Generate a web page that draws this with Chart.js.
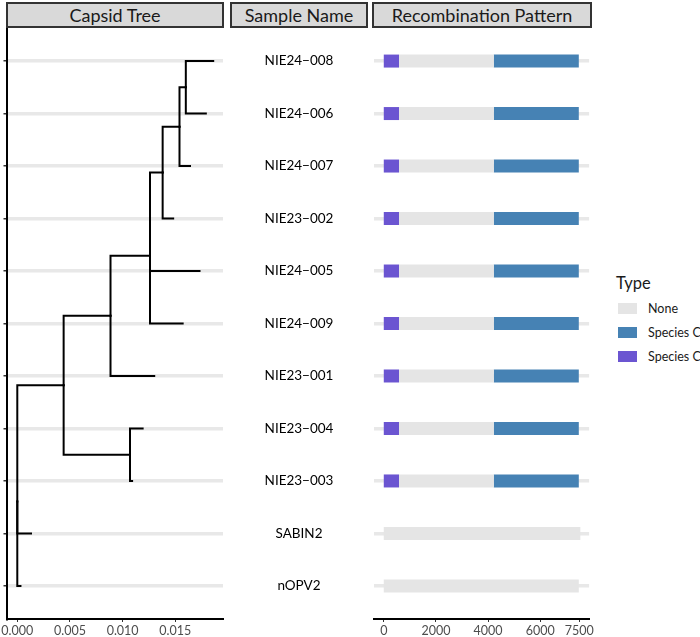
<!DOCTYPE html>
<html>
<head>
<meta charset="utf-8">
<script src="https://cdn.jsdelivr.net/npm/chart.js@4.4.1/dist/chart.umd.min.js"></script>
<style>
  html, body { margin:0; padding:0; background:#fff; }
  body { width:700px; height:637px; position:relative; overflow:hidden; font-family: Lato, "Noto Sans", sans-serif; }
  .cv { position:absolute; top:0; }
  .strip { position:absolute; top:2px; height:26px; box-sizing:border-box; border:2px solid #333; background:#d9d9d9;
           color:#1a1a1a; font-size:18px; line-height:22px; text-align:center; white-space:nowrap; }
  #legend { position:absolute; left:616px; top:272px; color:#1a1a1a; white-space:nowrap; }
  #legend .title { font-size:16.5px; height:28px; line-height:22px; }
  #legend .item { position:relative; height:24px; }
  #legend .key { position:absolute; left:2px; top:3px; width:19px; height:11px; }
  #legend .lab { position:absolute; left:32px; top:0; font-size:12.5px; line-height:17px; }
</style>
</head>
<body>
<canvas id="tree" class="cv" width="230" height="637" style="left:0"></canvas>
<canvas id="names" class="cv" width="136" height="637" style="left:231px"></canvas>
<canvas id="recomb" class="cv" width="225" height="637" style="left:370px"></canvas>
<div class="strip" style="left:6px;width:218px">Capsid Tree</div>
<div class="strip" style="left:230px;width:138px">Sample Name</div>
<div class="strip" style="left:372px;width:220px">Recombination Pattern</div>
<div id="legend"></div>
<script>
// ---------------- DATA ----------------
// samples, top to bottom
const samples = ['NIE24−008','NIE24−006','NIE24−007','NIE23−002','NIE24−005','NIE24−009','NIE23−001','NIE23−004','NIE23−003','SABIN2','nOPV2'];

// capsid tree edges (child, parent, branch length)
const edgeChild  = ['n1','n2','n3','n4','n5','n6','n7','NIE24−008','NIE24−006','NIE24−007','NIE23−002','NIE24−005','NIE24−009','NIE23−001','NIE23−004','NIE23−003','SABIN2','nOPV2'];
const edgeParent = ['root','n1','n1','n3','n4','n5','n6','n7','n7','n6','n5','n4','n4','n3','n2','n2','root','root'];
const edgeLength = [0.0044,0.0063,0.00445,0.00375,0.0012,0.0016,0.0006,0.0026,0.0019,0.0010,0.0010,0.0047,0.0031,0.00415,0.0012,0.0002,0.0013,0.0003];
const treeTicks = [0, 0.005, 0.010, 0.015];

// recombination pattern (genome positions), one entry per sample
const noneStart   = [585,585,585,585,585,585,585,585,585,0,0];
const noneEnd     = [4220,4220,4220,4220,4220,4220,4220,4220,4220,7540,7480];
const speciesCStart  = [4220,4220,4220,4220,4220,4220,4220,4220,4220,null,null];
const speciesCEnd    = [7480,7480,7480,7480,7480,7480,7480,7480,7480,null,null];
const speciesC2Start = [0,0,0,0,0,0,0,0,0,null,null];
const speciesC2End   = [585,585,585,585,585,585,585,585,585,null,null];
const genomeTicks = [0, 2000, 4000, 6000, 7500];

const typeNames  = ['None','Species C','Species C'];
const typeColors = ['#e5e5e5','#4682b4','#6b55d1'];

// ---------------- helpers ----------------
const FONT = 'Lato, "Noto Sans", sans-serif';
const nRows = samples.length;
const yMin = 0.37, yMax = nRows + 0.63;
const rowY = i => nRows - i;
const rowTicks = samples.map((s,i)=>rowY(i));

// tree layout
const depth = {root:0};
const children = {};
edgeChild.forEach((c,i)=>{ (children[edgeParent[i]] = children[edgeParent[i]] || []).push(c); });
function setDepth(n){ (children[n]||[]).forEach(c=>{ depth[c] = depth[n] + edgeLength[edgeChild.indexOf(c)]; setDepth(c); }); }
setDepth('root');
const yPos = {};
function setY(n){
  const idx = samples.indexOf(n);
  if (idx >= 0) { yPos[n] = rowY(idx); return yPos[n]; }
  const ys = children[n].map(setY);
  yPos[n] = ys.reduce((a,b)=>a+b,0)/ys.length;
  return yPos[n];
}
setY('root');
const maxDepth = Math.max(...Object.values(depth));
const xExp = maxDepth*0.05;

const treeDatasets = edgeChild.map((c,i)=>{
  const p = edgeParent[i];
  return {
    data:[{x:depth[p],y:yPos[p]},{x:depth[p],y:yPos[c]},{x:depth[c],y:yPos[c]}],
    showLine:true, borderColor:'#000', borderWidth:2, pointRadius:0, pointHoverRadius:0,
    borderCapStyle:'square', borderJoinStyle:'miter', fill:false, tension:0
  };
});

const setTicks = arr => s => { s.ticks = arr.map(v=>({value:v})); };

new Chart(document.getElementById('tree'), {
  type:'scatter',
  data:{datasets:treeDatasets},
  options:{
    responsive:false, animation:false, devicePixelRatio:1,
    layout:{padding:{top:28,right:7,left:0,bottom:0}},
    plugins:{legend:{display:false}, tooltip:{enabled:false}},
    scales:{
      x:{type:'linear', min:-xExp, max:maxDepth+xExp,
         afterBuildTicks:setTicks(treeTicks),
         ticks:{callback:v=>v.toFixed(3), color:'#4d4d4d', font:{family:FONT,size:12.5}, padding:1, maxRotation:0, autoSkip:false},
         grid:{drawOnChartArea:false, drawTicks:true, tickLength:3, tickColor:'#333', tickWidth:1},
         border:{display:true, color:'#000', width:2},
         afterFit:s=>{s.height=18;}},
      y:{type:'linear', min:yMin, max:yMax,
         afterBuildTicks:setTicks(rowTicks),
         ticks:{display:false},
         grid:{color:'#e8e8e8', lineWidth:3.5, drawTicks:true, tickLength:4, tickColor:'#333', tickWidth:1.5},
         border:{display:true, color:'#000', width:2},
         afterFit:s=>{s.width=7;}}
    }
  }
});

// sample names panel
new Chart(document.getElementById('names'), {
  type:'scatter',
  data:{datasets:[{data:[]}]},
  options:{
    responsive:false, animation:false, devicePixelRatio:1,
    layout:{padding:{top:28,bottom:18,left:0,right:0}},
    plugins:{legend:{display:false}, tooltip:{enabled:false}},
    scales:{ x:{display:false,min:0,max:1}, y:{display:false,min:yMin,max:yMax} }
  },
  plugins:[{
    id:'names',
    afterDraw(chart){
      const {ctx, chartArea, scales} = chart;
      ctx.save();
      ctx.font = '13.5px ' + FONT;
      ctx.fillStyle = '#000';
      ctx.textAlign = 'center';
      ctx.textBaseline = 'middle';
      const cx = (chartArea.left + chartArea.right)/2;
      samples.forEach((s,i)=>ctx.fillText(s, cx, scales.y.getPixelForValue(rowY(i))));
      ctx.restore();
    }
  }]
});

// recombination panel
const recDatasets = [];
function addSegs(starts, ends, color){
  starts.forEach((s,i)=>{
    if (s === null) return;
    recDatasets.push({
      data:[{x:s,y:rowY(i)},{x:ends[i],y:rowY(i)}],
      showLine:true, borderColor:color, borderWidth:13, borderCapStyle:'butt',
      pointRadius:0, pointHoverRadius:0, fill:false
    });
  });
}
addSegs(noneStart, noneEnd, typeColors[0]);
addSegs(speciesCStart, speciesCEnd, typeColors[1]);
addSegs(speciesC2Start, speciesC2End, typeColors[2]);

new Chart(document.getElementById('recomb'), {
  type:'scatter',
  data:{datasets:recDatasets},
  options:{
    responsive:false, animation:false, devicePixelRatio:1,
    layout:{padding:{top:28,right:4,left:0,bottom:0}},
    plugins:{legend:{display:false}, tooltip:{enabled:false}},
    scales:{
      x:{type:'linear', min:-375, max:7875,
         afterBuildTicks:setTicks(genomeTicks),
         ticks:{callback:v=>String(v), color:'#4d4d4d', font:{family:FONT,size:12.5}, padding:1, maxRotation:0, autoSkip:false},
         grid:{drawOnChartArea:false, drawTicks:true, tickLength:3, tickColor:'#333', tickWidth:1},
         border:{display:true, color:'#000', width:2},
         afterFit:s=>{s.height=18;}},
      y:{type:'linear', min:yMin, max:yMax,
         afterBuildTicks:setTicks(rowTicks),
         ticks:{display:false},
         grid:{color:'#e8e8e8', lineWidth:3.5, drawTicks:false},
         border:{display:false},
         afterFit:s=>{s.width=4;}}
    }
  }
});

// legend
const lg = document.getElementById('legend');
let html = '<div class="title">Type</div>';
typeNames.forEach((t,i)=>{
  html += '<div class="item"><div class="key" style="background:'+typeColors[i]+'"></div><div class="lab">'+t+'</div></div>';
});
lg.innerHTML = html;
</script>
</body>
</html>
